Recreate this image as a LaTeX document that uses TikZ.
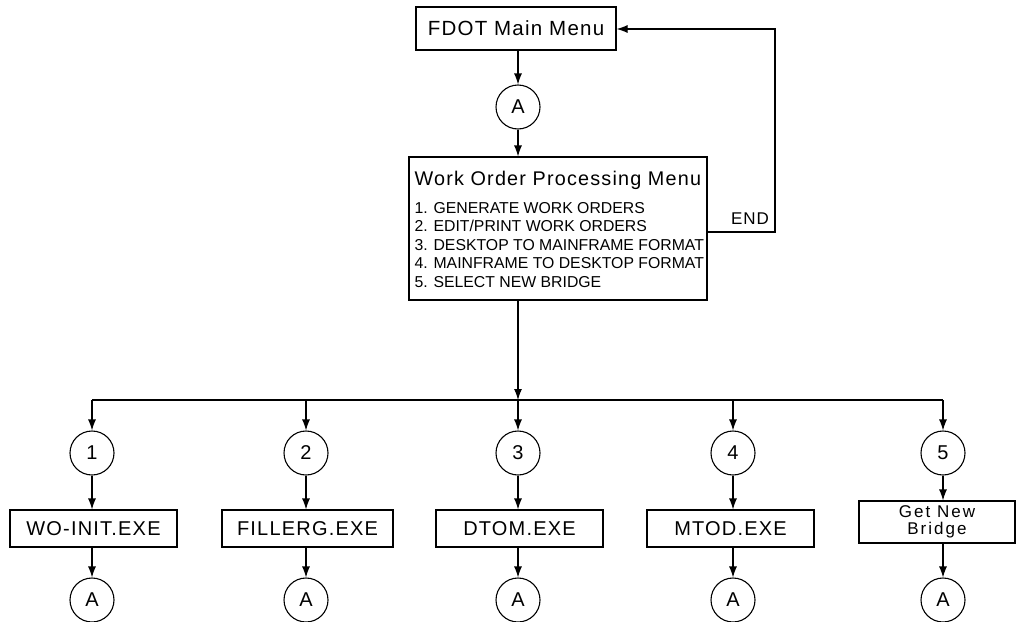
\documentclass[tikz,border=0pt]{standalone}
\usepackage{fontspec}
\setmainfont{Liberation Sans}
\newfontfamily\plotfont[LetterSpace=6]{Liberation Sans}
\newfontfamily\widefont[LetterSpace=12]{Liberation Sans}
\usetikzlibrary{arrows.meta}

\begin{document}
\begin{tikzpicture}[x=1pt,y=-1pt,line width=1.1pt,
  box/.style={draw,rectangle,inner sep=0pt},
  conn/.style={draw,circle,minimum size=44pt,inner sep=0pt,
    font=\plotfont\fontsize{20}{20}\selectfont},
  exebox/.style={box,minimum height=37pt,
    font=\plotfont\fontsize{20}{20}\selectfont},
  menuitem/.style={anchor=base west,inner sep=0pt,
    font=\fontsize{15.8}{16}\selectfont},
  arr/.style={-{Latex[length=11pt,width=8pt]}},
]
\useasboundingbox (0,0) rectangle (1017,621);

% top of the chart
\node[box,minimum width=200pt,minimum height=43pt,
  font=\plotfont\fontsize{20.5}{21}\selectfont] (main) at (516,28.5) {FDOT Main Menu};
\node[conn] (a0) at (518,107) {A};
\node[box,minimum width=298pt,minimum height=143pt] (wo) at (558,228.5) {};

% menu text
\node[anchor=base west,inner sep=0pt,font=\plotfont\fontsize{19.8}{20}\selectfont]
  (title) at (414,185) {Work Order Processing Menu};
\node[menuitem] (m1) at (414,213) {1. GENERATE WORK ORDERS};
\node[menuitem] (m2) at (414,231.5) {2. EDIT/PRINT WORK ORDERS};
\node[menuitem] (m3) at (414,250) {3. DESKTOP TO MAINFRAME FORMAT};
\node[menuitem] (m4) at (414,268.5) {4. MAINFRAME TO DESKTOP FORMAT};
\node[menuitem] (m5) at (414,287) {5. SELECT NEW BRIDGE};

\node[font=\plotfont\fontsize{17}{18}\selectfont,inner sep=0pt] (endlbl) at (750,219) {END};
\coordinate (r1) at (775,232);
\coordinate (r2) at (775,29);

% branch circles
\node[conn] (c1) at (92,453) {1};
\node[conn] (c2) at (306,453) {2};
\node[conn] (c3) at (518,453) {3};
\node[conn] (c4) at (733,453) {4};
\node[conn] (c5) at (943,453) {5};

\coordinate (bus1) at (92,400);
\coordinate (bus2) at (306,400);
\coordinate (bus3) at (518,400);
\coordinate (bus4) at (733,400);
\coordinate (bus5) at (943,400);

% programs
\node[exebox,minimum width=167pt] (e1) at (93.5,528.5) {WO-INIT.EXE};
\node[exebox,minimum width=171pt] (e2) at (307.5,528.5) {FILLERG.EXE};
\node[exebox,minimum width=167pt] (e3) at (519.5,528.5) {DTOM.EXE};
\node[exebox,minimum width=167pt] (e4) at (730.5,528.5) {MTOD.EXE};
\node[box,minimum width=156pt,minimum height=42pt,align=center,
  font=\widefont\fontsize{17}{16.5}\selectfont] (e5) at (937,522) {Get New\\Bridge};

% return connectors
\node[conn] (b1) at (92,600) {A};
\node[conn] (b2) at (306,600) {A};
\node[conn] (b3) at (518,600) {A};
\node[conn] (b4) at (733,600) {A};
\node[conn] (b5) at (943,600) {A};

% connectors
\draw[arr] (main.south -| a0) -- (a0.north);
\draw[arr] (a0.south) -- (a0.south |- wo.north);
\draw[arr] (wo.east |- r1) -- (r1) -- (r2) -- (r2 -| main.east);
\draw[arr] (wo.south -| bus3) -- (bus3);
\draw (bus1) -- (bus5);
\foreach \i in {1,...,5}{
  \draw[arr] (bus\i) -- (c\i.north);
  \draw[arr] (c\i.south) -- (c\i.south |- e\i.north);
  \draw[arr] (e\i.south -| b\i) -- (b\i.north);
}
\end{tikzpicture}
\end{document}
